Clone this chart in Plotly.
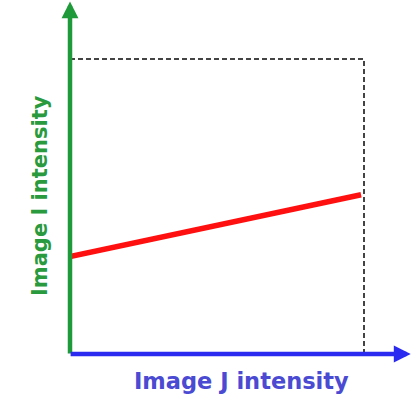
import plotly.graph_objects as go

# Intensity relationship between two images (normalised units)
j_intensity = [0.0, 0.99]
i_intensity = [0.33, 0.54]
j_max = 1.0
i_max = 1.0
x_label = "Image J intensity"
y_label = "Image I intensity"

GREEN = "#1f9a3a"
BLUE = "#2a2af0"
RED = "#ff1010"
DASH = "#444444"

W, H = 411, 396
ML, MB = 70, 42
PW, PH = W - ML, H - MB
X_END = PW / 294.0
Y_END = PH / 295.0

fig = go.Figure()

# reference box (dashed) marking the maximum intensities
fig.add_trace(go.Scatter(
    x=[0, j_max, j_max], y=[i_max, i_max, 0], mode="lines",
    line=dict(color=DASH, width=2, dash="5px,3px"),
    hoverinfo="skip", showlegend=False, cliponaxis=False))

# intensity mapping line
fig.add_trace(go.Scatter(
    x=j_intensity, y=i_intensity, mode="lines",
    line=dict(color=RED, width=5.5),
    hoverinfo="skip", showlegend=False, cliponaxis=False))

# axes drawn as arrows
fig.add_annotation(x=0, y=Y_END - 0.005, ax=0, ay=-0.003, xref="x", yref="y",
                   axref="x", ayref="y", showarrow=True, arrowhead=2,
                   arrowsize=0.75, arrowwidth=4.5, arrowcolor=GREEN, text="")
fig.add_annotation(x=X_END - 0.001, y=0, ax=-0.003, ay=0, xref="x", yref="y",
                   axref="x", ayref="y", showarrow=True, arrowhead=2,
                   arrowsize=0.75, arrowwidth=4.5, arrowcolor=BLUE, text="")

# axis titles (paper coordinates relative to the plotting area)
fig.add_annotation(x=(40 - ML) / PW, y=1 - 196 / PH, xref="paper", yref="paper",
                   xanchor="center", yanchor="middle",
                   text=f"<b>{y_label}</b>", showarrow=False, textangle=-90,
                   font=dict(family="DejaVu Sans", size=21, color="#2a9a3e"))
fig.add_annotation(x=(241 - ML) / PW, y=1 - 381 / PH, xref="paper", yref="paper",
                   xanchor="center", yanchor="middle",
                   text=f"<b>{x_label}</b>", showarrow=False,
                   font=dict(family="DejaVu Sans", size=22.5, color="#4a4ad2"))

fig.update_layout(
    width=W, height=H, margin=dict(l=ML, r=0, t=0, b=MB),
    paper_bgcolor="white", plot_bgcolor="white",
    xaxis=dict(range=[0, X_END], visible=False, fixedrange=True),
    yaxis=dict(range=[0, Y_END], visible=False, fixedrange=True),
)

fig.write_html("out.html")
